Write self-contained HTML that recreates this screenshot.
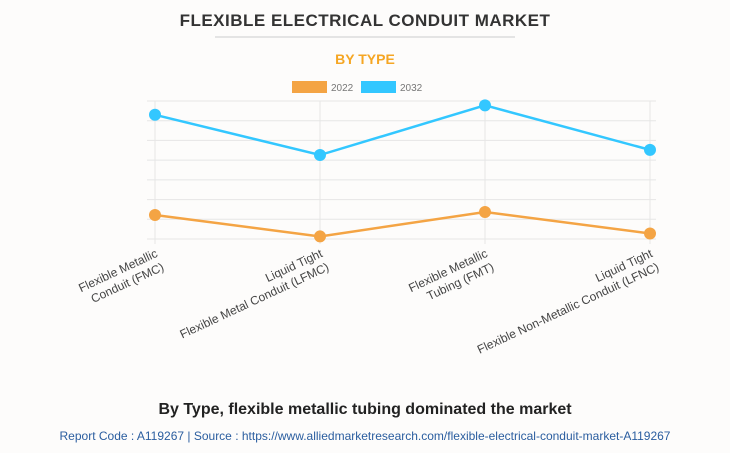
<!DOCTYPE html>
<html><head><meta charset="utf-8"><style>
body{margin:0;background:#fdfcfb;font-family:"Liberation Sans",sans-serif;}
#wrap{position:relative;width:730px;height:453px;overflow:hidden;}
</style></head><body>
<div id="wrap">
<svg id="svg" width="730" height="453">
<text x="365" y="26" text-anchor="middle" font-size="17" font-weight="bold" fill="#333" letter-spacing="0.5">FLEXIBLE ELECTRICAL CONDUIT MARKET</text>
<line x1="215" y1="37" x2="515" y2="37" stroke="#ccc"/>
<text x="365" y="64" text-anchor="middle" font-size="14" font-weight="bold" fill="#f5a623">BY TYPE</text>
<g>
<rect x="292" y="81" width="35" height="12" fill="#f4a444"/>
<text x="331" y="91" font-size="10" fill="#777">2022</text>
<rect x="361" y="81" width="35" height="12" fill="#33c7ff"/>
<text x="400" y="91" font-size="10" fill="#777">2032</text>
</g>
<g id="grid"></g><g id="series"></g><g id="xlabels"></g>
<text x="365" y="414" text-anchor="middle" font-size="16" font-weight="bold" fill="#222">By Type, flexible metallic tubing dominated the market</text>
<text x="365" y="440" text-anchor="middle" font-size="12" fill="#2a5d9f">Report Code : A119267  |  Source : https://www.alliedmarketresearch.com/flexible-electrical-conduit-market-A119267</text>
</svg>
</div>
<script>
const categories=[["Flexible Metallic","Conduit (FMC)"],["Liquid Tight","Flexible Metal Conduit (LFMC)"],["Flexible Metallic","Tubing (FMT)"],["Liquid Tight","Flexible Non-Metallic Conduit (LFNC)"]];
const values2022=[1.22,0.13,1.37,0.28];
const values2032=[6.3,4.26,6.78,4.52];
const yMax=7;
const NS="http://www.w3.org/2000/svg";
const L=147,R=656,T=101,B=239;
const xs=i=>155+i*(650-155)/(categories.length-1);
const ys=v=>B-(v/yMax)*(B-T);
function mk(tag,attrs,parent){const e=document.createElementNS(NS,tag);for(const k in attrs)e.setAttribute(k,attrs[k]);parent.appendChild(e);return e;}
const grid=document.getElementById('grid');
for(let i=0;i<=yMax;i++){const y=ys(i);
const g=mk('line',{x1:L,x2:R,y1:y,y2:y,stroke:'#e6e6e6'},grid);

}
categories.forEach((c,i)=>{const x=xs(i);
const g=mk('line',{x1:x,x2:x,y1:T,y2:B+5,stroke:'#e6e6e6'},grid);

});
const ser=document.getElementById('series');
[[values2022,'#f4a444','2022'],[values2032,'#33c7ff','2032']].forEach(([vals,col,nm])=>{
const p=mk('polyline',{points:vals.map((v,i)=>xs(i)+','+ys(v)).join(' '),fill:'none',stroke:col,'stroke-width':2.5},ser);


vals.forEach((v,i)=>{const c=mk('circle',{cx:xs(i),cy:ys(v),r:6,fill:col},ser);

});});
const xl=document.getElementById('xlabels');
categories.forEach((lines,i)=>{const x=xs(i),y=B+10;
const t=mk('text',{transform:`translate(${x},${y}) rotate(-25)`,'text-anchor':'end','font-size':12,fill:'#444'},xl);


lines.forEach((s,j)=>{const ts=mk('tspan',{x:0,y:8+j*15},t);ts.textContent=s;});});
</script>
</body></html>
